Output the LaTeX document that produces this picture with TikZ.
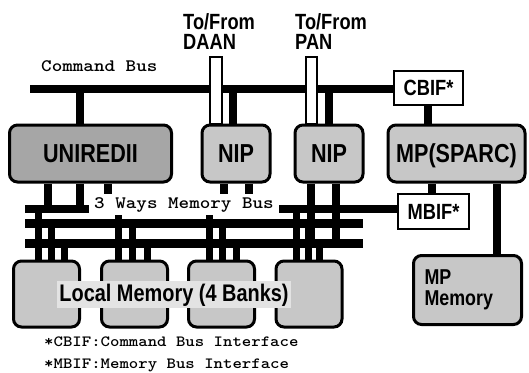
\documentclass[tikz,border=0pt]{standalone}
\usepackage{fontspec}
\newfontfamily\labelfont{Liberation Sans Bold}[FakeStretch=0.83]
\newfontfamily\busfont{lmmonolt10-bold.otf}[FakeStretch=1.15]
\colorlet{boxgray}{black!22}

\begin{document}
\begin{tikzpicture}[x=1pt,y=-1pt,
    unit/.style={draw,line width=3pt,rounded corners=8pt,fill=boxgray,
      font=\labelfont\fontsize{26}{28}\selectfont},
    caps/.style={text height=18.5pt,text depth=0pt},
    iface/.style={draw,line width=2.5pt,fill=white,
      font=\labelfont\fontsize{22}{24}\selectfont},
    bus/.style={line width=9pt},
    stub/.style={line width=8pt},
    port/.style={draw,fill=white,line width=2pt},
    mono/.style={inner sep=0pt,font=\busfont\fontsize{17.5}{20}\selectfont}]
    \useasboundingbox (0,0) rectangle (529,372);

    % command bus
    \node[iface,minimum width=69pt,minimum height=34pt] (cbif) at (428.5,88) {CBIF*};
    \coordinate (cmdbus) at (30,89);
    \draw[line width=8.5pt] (cmdbus) -- (cmdbus -| cbif.west);
    \node[mono,anchor=base west] (cmdlabel) at (41,71) {Command Bus};

    % processing units
    \node[unit,caps,fill=black!35,minimum width=162pt,minimum height=57pt] (uni) at (90.5,153.5) {UNIREDII};
    \node[unit,caps,minimum width=68pt,minimum height=57pt] (nipa) at (236,153.5) {NIP};
    \node[unit,caps,minimum width=68pt,minimum height=57pt] (nipb) at (329,153.5) {NIP};
    \node[unit,caps,minimum width=137pt,minimum height=57pt] (mp) at (456.5,153.5) {MP(SPARC)};

    \draw[stub] (80,0 |- cmdbus) -- (80,0 |- uni.north);
    \draw[stub] (232.5,0 |- cmdbus) -- (232.5,0 |- nipa.north);
    \draw[stub] (cmdbus -| nipb.north) -- (nipb.north);
    \draw[stub] (cbif.south -| 427.5,0) -- (427.5,0 |- mp.north);

    % network ports
    \node[anchor=north west,inner sep=0pt,align=left,font=\labelfont\fontsize{22}{20}\selectfont] (daan) at (183,13) {To/From\\DAAN};
    \node[anchor=north west,inner sep=0pt,align=left,font=\labelfont\fontsize{22}{20}\selectfont] (pan) at (295,13) {To/From\\PAN};
    \filldraw[port] (210,57) rectangle (nipa.north -| 222,0);
    \filldraw[port] (306,57) rectangle (nipb.north -| 317,0);

    % memory bus
    \node[iface,minimum width=71pt,minimum height=35pt] (mbif) at (433.5,211.5) {MBIF*};
    \coordinate (busa) at (25,209);
    \coordinate (busb) at (25,223.5);
    \coordinate (busc) at (25,243);
    \draw[bus,line width=8pt] (busa) -- (busa -| mbif.west);
    \draw[bus] (busb) -- +(338,0);
    \draw[bus] (busc) -- +(338,0);

    \foreach \x in {48,80,108}
        \draw[stub] (\x,0 |- uni.south) -- (\x,0 |- busa);
    \foreach \x in {224,249}
        \draw[stub] (\x,0 |- nipa.south) -- (\x,0 |- busa);
    \foreach \x in {311,336}
        \draw[stub] (\x,0 |- nipb.south) -- (\x,0 |- busc);
    \draw[stub] (mbif.north -| 432,0) -- (432,0 |- mp.south);

    % memories
    \foreach \n/\x in {mema/46.5,memb/134.5,memc/221.5,memd/309}
        \node[unit,minimum width=66pt,minimum height=66pt] (\n) at (\x,294) {};
    \node[unit,minimum width=108pt,minimum height=69pt,text width=86pt,align=left,
        font=\labelfont\fontsize{21.5}{21}\selectfont] (mpmem) at (467.5,290) {MP\\Memory};
    \draw[stub] (497,0 |- mp.south) -- (mpmem.north -| 497,0);

    \foreach \n/\x in {mema/38,memb/118,memc/209,memd/296}
        \draw[stub,line width=7pt] (\x,0 |- \n.north) -- (\x,0 |- busa);
    \foreach \n/\x in {mema/51,memb/132,memc/222,memd/308}
        \draw[stub,line width=7pt] (\x,0 |- \n.north) -- (\x,0 |- busb);
    \foreach \n/\x in {mema/64,memb/147,memc/236,memd/319}
        \draw[stub,line width=7pt] (\x,0 |- \n.north) -- (\x,0 |- busc);

    \node[mono,fill=white,inner xsep=5pt,inner ysep=2pt,text height=12pt,text depth=5pt,anchor=base] (buslabel) at (184,208) {3 Ways Memory Bus};
    \node[fill=boxgray!50,inner sep=2.5pt,anchor=base,font=\labelfont\fontsize{24}{26}\selectfont] (banks) at (174,301) {Local Memory (4 Banks)};

    % footnotes
    \node[mono,anchor=base west,font=\busfont\fontsize{15.6}{18}\selectfont] (notea) at (44,346) {*CBIF:Command Bus Interface};
    \node[mono,anchor=base west,font=\busfont\fontsize{15.6}{18}\selectfont] (noteb) at (44,368) {*MBIF:Memory Bus Interface};
\end{tikzpicture}
\end{document}
